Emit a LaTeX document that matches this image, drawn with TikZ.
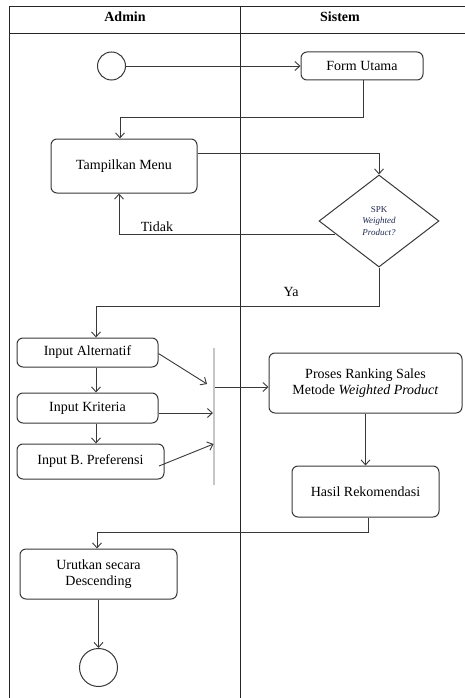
\documentclass[tikz,border=0pt]{standalone}
\usepackage{fontspec}
\setmainfont{Liberation Serif}
\usetikzlibrary{arrows.meta,shapes.geometric,calc}
\definecolor{lineC}{gray}{0.22}
\definecolor{navyT}{rgb}{0.12,0.16,0.32}
\tikzset{
  box/.style={draw=lineC, line width=1pt, rounded corners=6pt, align=center, inner sep=0pt,
              font=\fontsize{14}{16.5}\selectfont},
  circ/.style={draw=lineC, line width=1pt, circle, inner sep=0pt},
  conn/.style={draw=lineC, line width=0.9pt, -{Straight Barb[length=5pt,width=9pt]}},
  frame/.style={draw=black!85, line width=1pt},
  hdr/.style={font=\fontsize{14}{16}\selectfont\bfseries},
  lbl/.style={font=\fontsize{14}{16}\selectfont, inner sep=0pt}
}
\begin{document}
\begin{tikzpicture}[x=1pt,y=-1pt]
\useasboundingbox (0,0) rectangle (465,698);
% frame
\draw[frame] (9,7) -- (465,7);
\draw[frame] (9,34) -- (465,34);
\draw[frame] (9,7) -- (9,698);
\draw[frame] (240,7) -- (240,698);
\node[hdr] (hA) at (125,17) {Admin};
\node[hdr] (hS) at (340,17) {Sistem};

% nodes
\node[circ, minimum size=28pt] (start) at (111.5,66) {};
\node[box, minimum width=122pt, minimum height=28pt] (form) at (362,66) {Form Utama};
\node[box, minimum width=146pt, minimum height=54pt] (menu) at (124,166) {Tampilkan Menu};
\node[draw=lineC, line width=1pt, diamond, minimum width=120pt, minimum height=92pt, inner sep=0pt,
      align=center, text=navyT, font=\fontsize{9}{11.5}\selectfont] (dec) at (379,221)
      {SPK\\\textit{Weighted}\\\textit{Product?}};
\node[box, minimum width=141pt, minimum height=29pt] (alt) at (87.5,352.5) {Input Alternatif};
\node[box, minimum width=141pt, minimum height=30pt] (krit) at (87.5,408) {Input Kriteria};
\node[box, minimum width=147pt, minimum height=35pt] (pref) at (90.5,461.5) {Input B. Preferensi};
\node[fill=gray!45, inner sep=0pt, minimum width=1.6pt, minimum height=137pt] (bar) at (214,416.5) {};
\node[box, minimum width=193pt, minimum height=60pt] (proses) at (365.5,383)
      {Proses Ranking Sales\\Metode \textit{Weighted Product}};
\node[box, minimum width=147pt, minimum height=51pt] (hasil) at (365.5,491.5) {Hasil Rekomendasi};
\node[box, minimum width=157pt, minimum height=50pt] (urut) at (98.5,574) {Urutkan secara\\Descending};
\node[circ, minimum size=38pt] (end) at (98.5,667.5) {};

% connectors
\draw[conn] (start.east) -- (form.west);
\draw[conn] ([xshift=1pt]form.south) -- ++(0,37) -| ([xshift=-4pt]menu.north);
\draw[conn] ([yshift=13pt]menu.east) -| (dec.north);
\coordinate (tid) at ($(dec.west)!0.28!(dec.south)$);
\draw[conn] (tid) -| ([xshift=-5pt]menu.south);
\node[lbl] (ltid) at (157,227) {Tidak};
\draw[conn] (dec.south) -- ++(0,39) -| ([xshift=8.5pt]alt.north);
\node[lbl] (lya) at (291,292) {Ya};
\draw[conn] ([xshift=8.5pt]alt.south) -- ([xshift=8.5pt]alt.south |- krit.north);
\draw[conn] ([xshift=8.5pt]krit.south) -- ([xshift=8.5pt]krit.south |- pref.north);
\coordinate (j1) at (207,384);
\draw[conn] ([yshift=-1pt]alt.east) -- (j1);
\draw[conn] ([yshift=-5pt]krit.east) -- ([yshift=-5pt]krit.east -| bar.west);
\coordinate (p1) at (159,466);
\coordinate (j3) at (213.5,444);
\draw[conn] (p1) -- (j3);
\coordinate (b1) at (215,387);
\draw[conn] (b1) -- (b1 -| proses.west);
\draw[conn] (proses.south) -- (hasil.north);
\draw[conn] ([xshift=2.5pt]hasil.south) -- ++(0,15) -| ([xshift=-1.5pt]urut.north);
\draw[conn] (urut.south) -- (end.north);
\end{tikzpicture}
\end{document}
